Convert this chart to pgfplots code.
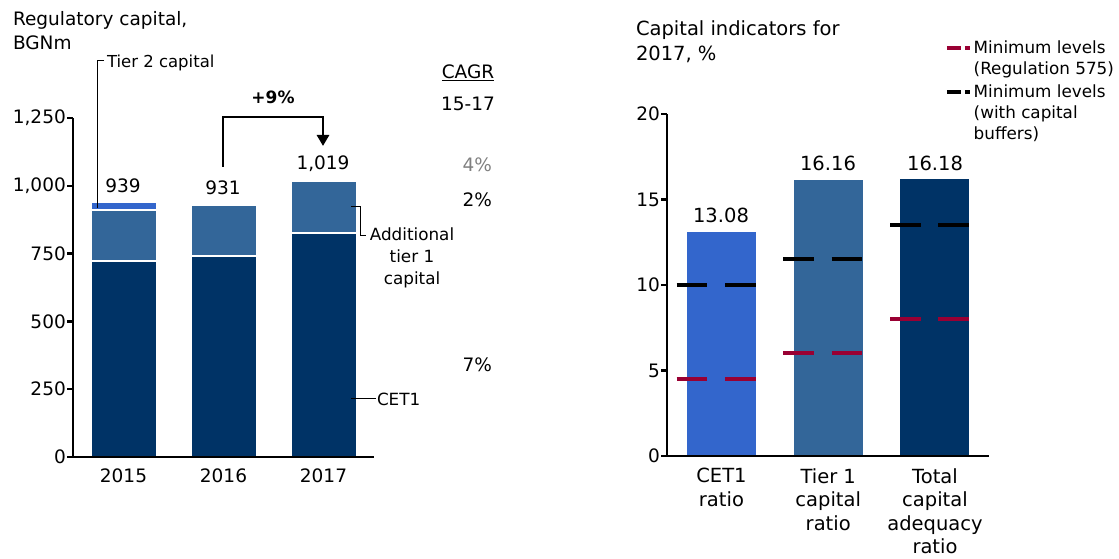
\documentclass[border=0pt]{standalone}
\usepackage{pgfplots}
\pgfplotsset{compat=1.18}
\usepackage{fontspec}
\setmainfont{DejaVu Sans}
\usetikzlibrary{arrows.meta}
\definecolor{navy}{RGB}{0,51,102}
\definecolor{steel}{RGB}{51,102,153}
\definecolor{bright}{RGB}{51,102,204}
\definecolor{crimson}{RGB}{153,0,51}
\definecolor{greytxt}{RGB}{128,128,128}
\begin{document}
\begin{tikzpicture}[font=\fontsize{18.5}{23}\selectfont, t/.style={inner sep=0pt, outer sep=0pt}]
\useasboundingbox (0pt,0pt) rectangle (1119pt,559pt);
\pgfplotsset{
  base/.style={scale only axis, anchor=south west, axis on top,
    axis x line*=bottom, axis y line*=left,
    axis line style={line width=2.5pt, black, -},
    tick align=outside, major tick length=6pt,
    ytick style={line width=2.5pt, black},
    xtick style={draw=none},
    ymin=0, clip=false,
    /pgf/number format/assume math mode=true,
    yticklabel style={font=\fontsize{18.5}{23}\selectfont, inner sep=0pt, xshift=-1pt},
    xticklabel style={inner sep=0pt, anchor=north, align=center, yshift=-6pt},
  }
}
% ---------------- left chart ----------------
\begin{axis}[base, at={(73pt,102pt)}, width=301pt, height=339pt,
  xmin=-0.505, xmax=2.505, ymax=1250,
  ytick={0,250,500,750,1000,1250}, yticklabels={0,250,500,750,{1,000},{1,250}},
  xtick={0,1,2}, xticklabels={2015,2016,2017},
  xticklabel style={font=\fontsize{18.5}{24}\selectfont},
  ybar stacked, bar width=66pt]
\addplot[fill=navy, draw=white, line width=2pt] coordinates {(0,722) (1,742) (2,826)};
\addplot[fill=steel, draw=white, line width=2pt] coordinates {(0,187) (1,189) (2,193)};
\addplot[fill=bright, draw=white, line width=2pt] coordinates {(0,30) (1,0) (2,0)};
\end{axis}
% ---------------- right chart ----------------
\begin{axis}[base, at={(667pt,103pt)}, width=322pt, height=342pt,
  xmin=-0.51, xmax=2.506, ymax=20,
  ytick={0,5,10,15,20},
  xtick={0,1,2},
  xticklabels={{CET1\\ratio},{Tier 1\\capital\\ratio},{Total\\capital\\adequacy\\ratio}},
  xticklabel style={font=\fontsize{19.5}{23.5}\selectfont},
  bar width=69pt, unbounded coords=jump,
  legend style={at={(axis description cs:0.8634,1.2216)}, anchor=north west,
    draw=none, fill=none, inner sep=0pt, row sep=5pt,
    font=\fontsize{16.8}{21}\selectfont, cells={align=left}},
  legend cell align=left]
\addplot[ybar, bar shift=0pt, fill=bright, draw=none, forget plot] coordinates {(0,13.08)};
\addplot[ybar, bar shift=0pt, fill=steel, draw=none, forget plot] coordinates {(1,16.16)};
\addplot[ybar, bar shift=0pt, fill=navy, draw=none, forget plot] coordinates {(2,16.18)};
\addplot[crimson, line width=3.8pt, no marks, dash pattern=on 30.6pt off 17.7pt,
  legend image code/.code={\draw[crimson, line width=3.5pt, dash pattern=on 14pt off 4pt on 5pt off 20pt] (0pt,10pt) -- (23pt,10pt);}]
  coordinates {(-0.42,4.5) (0.32,4.5) (0.5,nan) (0.58,6) (1.32,6) (1.5,nan) (1.58,8) (2.32,8)};
\addlegendentry{Minimum levels\\(Regulation 575)}
\addplot[black, line width=3.8pt, no marks, dash pattern=on 30.6pt off 17.7pt,
  legend image code/.code={\draw[black, line width=3.5pt, dash pattern=on 14pt off 4pt on 5pt off 20pt] (0pt,21pt) -- (23pt,21pt);}]
  coordinates {(-0.42,10) (0.32,10) (0.5,nan) (0.58,11.5) (1.32,11.5) (1.5,nan) (1.58,13.5) (2.32,13.5)};
\addlegendentry{Minimum levels\\(with capital\\buffers)}
\end{axis}
% ---------------- annotations left ----------------
\node[t, anchor=base west] at (13pt,533pt) {Regulatory capital,};
\node[t, anchor=base west] at (13pt,509pt) {BGNm};
\node[t, anchor=base west, font=\fontsize{16.5}{21}\selectfont] at (107pt,491pt) {Tier 2 capital};
\draw[line width=1pt] (104pt,498pt) -- (97pt,498pt) -- (97pt,351pt);
\node[t, anchor=base] at (468pt,480pt) {\underline{CAGR}};
\node[t, anchor=base] at (468pt,448pt) {15-17};
\node[t, anchor=base east, text=greytxt] at (492pt,387pt) {4\%};
\node[t, anchor=base east] at (492pt,352pt) {2\%};
\node[t, anchor=base east] at (492pt,187pt) {7\%};
\node[t, anchor=base, font=\fontsize{17}{21}\bfseries] at (273pt,455pt) {+9\%};
\draw[line width=2.7pt, -{Triangle[length=11pt,width=12pt]}] (223pt,392pt) -- (223pt,442pt) -- (323pt,442pt) -- (323pt,413pt);
\node[t, anchor=base] at (123pt,366pt) {939};
\node[t, anchor=base] at (223pt,364pt) {931};
\node[t, anchor=base] at (323pt,389pt) {1,019};
\draw[line width=1pt] (351pt,352pt) -- (360pt,352pt) -- (360pt,323pt) -- (366pt,323pt);
\node[t, anchor=base, font=\fontsize{16.8}{21}\selectfont] at (412pt,318pt) {Additional};
\node[t, anchor=base, font=\fontsize{16.8}{21}\selectfont] at (412pt,296pt) {tier 1};
\node[t, anchor=base, font=\fontsize{16.8}{21}\selectfont] at (412pt,274pt) {capital};
\draw[line width=1pt] (351pt,160pt) -- (376pt,160pt);
\node[t, anchor=base west, font=\fontsize{16.8}{21}\selectfont] at (377pt,153pt) {CET1};
% ---------------- annotations right ----------------
\node[t, anchor=base west, font=\fontsize{19.5}{24}\selectfont] at (636pt,523pt) {Capital indicators for};
\node[t, anchor=base west, font=\fontsize{19.5}{24}\selectfont] at (636pt,498pt) {2017, \%};
\node[t, anchor=base, font=\fontsize{19.5}{24}\selectfont] at (721pt,336pt) {13.08};
\node[t, anchor=base, font=\fontsize{19.5}{24}\selectfont] at (828pt,388pt) {16.16};
\node[t, anchor=base, font=\fontsize{19.5}{24}\selectfont] at (935pt,388pt) {16.18};
\end{tikzpicture}
\end{document}
